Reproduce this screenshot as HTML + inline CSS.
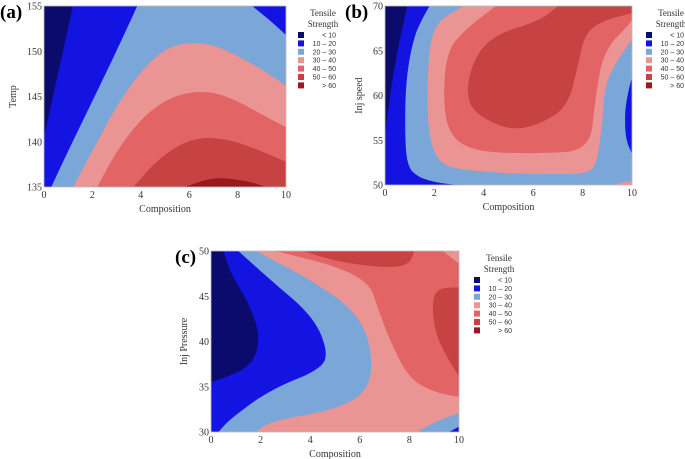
<!DOCTYPE html>
<html><head><meta charset="utf-8"><style>
html,body{margin:0;padding:0;background:#fff;}
svg{display:block;font-family:"Liberation Serif",serif;}
</style></head><body>
<svg id="fig" width="685" height="459" viewBox="0 0 685 459"></svg>
<script>
// ---------- data ----------
const levels = ["< 10","10 – 20","20 – 30","30 – 40","40 – 50","50 – 60","> 60"];
const colors = ["#0b0b6e","#1414e2","#7ba6d8","#ea9494","#e36464","#c74343","#99191c"];
const xTicks = [0,2,4,6,8,10];
const yTicksA = [135,140,145,150,155];
const yTicksB = [50,55,60,65,70];
const yTicksC = [30,35,40,45,50];
// contours: [levelIndex, [[x,y],...]]
const contoursA = [
 [1,[[0,140.5],[1.2,155],[10,155],[10,135],[0,135]]],
 [2,[[0.3,135],[1,139],[2,144.5],[2.9,149.5],[3.6,153.5],[3.85,155],[8.6,155],[9.3,153.5],[10,151.8],[10,135]]],
 [3,[[1.2,135],[2,139],[3,144],[4,147.8],[5,150.3],[6,151],[7,150.7],[8,149.5],[9,148],[10,146.2],[10,135]]],
 [4,[[2.2,135],[3,139],[4,142.5],[5,144.6],[6,145.5],[7,145.5],[8,144.5],[9,143],[10,141.6],[10,135]]],
 [5,[[3.7,135],[4.5,137.5],[5.5,139.6],[6.5,140.5],[7.5,140.3],[8.5,139.5],[10,137.8],[10,135]]],
 [6,[[5.8,135],[6.8,135.9],[7.5,136],[8.5,135.6],[9.2,135]]]
];
const contoursB = [
 [1,[[0,55.5],[0.2,60],[0.5,65],[0.9,70],[10,70],[10,50],[0,50]]],
 [2,[[1.8,70],[1.2,67],[0.85,62],[0.8,56],[0.9,52],[1.4,50.8],[2.2,50.2],[3,50],[10,50],[10,53.5],[9.75,55],[9.7,58],[9.85,60.5],[10,62],[10,70]]],
 [3,[[3.2,70],[2.2,68.5],[1.8,66],[1.7,60],[1.8,55],[2.2,52.5],[3,51.7],[5,51.3],[7,51.2],[8.3,51.3],[8.6,52.8],[8.8,57],[8.9,61],[9.3,63.5],[10,66.3],[10,70]]],
 [3,[[9.2,50],[10,50.5],[10,50]]],
 [4,[[4.5,70],[3.3,67.5],[2.5,65],[2.35,59.5],[2.6,55.6],[3.6,53.7],[6.3,53.5],[8.3,53.9],[8.5,59.5],[8.85,65],[9.9,68],[10,68.5],[10,70]]],
 [5,[[7,70],[6.3,68.4],[4.25,66.6],[3.45,63.2],[3.3,59.5],[3.85,57.6],[5.1,56.1],[6.3,56.8],[7.4,58.8],[7.8,63.2],[8.1,67],[8.85,68.4],[10,69.2],[10,70]]]
];
const contoursC = [
 [1,[[0.5,50],[0.8,47.5],[1.6,43.9],[2,40.2],[1.6,37.2],[0.35,35.8],[0,35.5],[0,30],[10,30],[10,50]]],
 [2,[[1.1,50],[2.4,46.8],[4.1,42.8],[4.7,39.1],[4.5,37],[2.4,34.7],[0.75,31.4],[0.3,30],[10,30],[10,50]]],
 [3,[[1.8,50],[4.3,46.4],[5.9,43.1],[6.5,39.1],[6.4,34.7],[5.1,32.5],[2.4,31.2],[1.8,30],[8.3,30],[9.1,31.2],[10,32.1],[10,50]]],
 [1,[[9.6,30],[10,30.6],[10,30]]],
 [4,[[2.6,50],[5.1,48.3],[6.4,46.4],[6.7,43.9],[7.2,40.2],[8,35.8],[9.1,34.3],[10,33.9],[10,48.6],[9.35,50]]],
 [5,[[3.7,50],[5.1,48.8],[7.1,48.1],[8,48.5],[8.2,50]]],
 [5,[[10,46],[9.1,45.9],[8.9,43.9],[9.1,40.2],[10,36.1]]]
];
// ---------- drawing ----------
const NS="http://www.w3.org/2000/svg";
const svg=document.getElementById('fig');
function mk(tag,attrs,parent,text){const e=document.createElementNS(NS,tag);for(const k in attrs)e.setAttribute(k,attrs[k]);if(text!==undefined)e.textContent=text;(parent||svg).appendChild(e);return e;}
function smooth(pts,onEdge,iter){
  for(let k=0;k<iter;k++){
    const out=[];const n=pts.length;
    for(let i=0;i<n;i++){
      const P=pts[i],A=pts[(i-1+n)%n],B=pts[(i+1)%n];
      if(onEdge(P)){out.push(P);continue;}
      out.push([0.25*A[0]+0.75*P[0],0.25*A[1]+0.75*P[1]]);
      out.push([0.75*P[0]+0.25*B[0],0.75*P[1]+0.25*B[1]]);
    }
    pts=out;
  }
  return pts;
}
function panel(p){
  const g=mk('g',{});
  
  
  const ymin=p.yt[0],ymax=p.yt[p.yt.length-1];
  const sx=v=>p.x0+(v-0)/10*(p.x1-p.x0);
  const sy=v=>p.y1-(v-ymin)/(ymax-ymin)*(p.y1-p.y0);
  const onEdge=pt=>pt[0]<=0.001||pt[0]>=9.999||Math.abs(pt[1]-ymin)<1e-3||Math.abs(pt[1]-ymax)<1e-3;
  const bg=mk('rect',{x:p.x0,y:p.y0,width:p.x1-p.x0,height:p.y1-p.y0,fill:colors[0]},g);
  
  
  p.c.forEach((c,i)=>{
    const pts=smooth(c[1],onEdge,3);
    const d=pts.map((pt,j)=>(j?'L':'M')+sx(pt[0]).toFixed(1)+','+sy(pt[1]).toFixed(1)).join('')+'Z';
    const e=mk('path',{d:d,fill:colors[c[0]]},g);
    
    
  });
  mk('rect',{x:p.x0,y:p.y0,width:p.x1-p.x0,height:p.y1-p.y0,fill:'none',stroke:'#bbb','stroke-width':0.8},g);
  xTicks.forEach(t=>{
    const e=mk('text',{x:sx(t),y:p.y1+11,'font-size':10,'text-anchor':'middle',fill:'#333'},g,t);
    
    
  });
  p.yt.forEach(t=>{
    const e=mk('text',{x:p.x0-2,y:sy(t)+3.5,'font-size':10,'text-anchor':'end',fill:'#333'},g,t);
    
    
  });
  const xt=mk('text',{x:(p.x0+p.x1)/2,y:p.y1+25,'font-size':10,'text-anchor':'middle',fill:'#333'},g,'Composition');
  
  
  const yc=(p.y0+p.y1)/2;
  const yt=mk('text',{x:p.ytx,y:yc,'font-size':10,'text-anchor':'middle',fill:'#333',transform:'rotate(-90 '+p.ytx+' '+yc+')'},g,p.ylabel);
  
  
  const lab=mk('text',{x:p.lx,y:p.ly,'font-size':19,'font-weight':'bold',fill:'#000'},g,p.letter);
  
  
  const lg=mk('g',{},g);
  
  
  const t1=mk('text',{x:p.legX+25,y:p.legY-19,'font-size':9,'text-anchor':'middle',fill:'#333'},lg,'Tensile');
  
  
  const t2=mk('text',{x:p.legX+25,y:p.legY-8,'font-size':9,'text-anchor':'middle',fill:'#333'},lg,'Strength');
  
  
  levels.forEach((l,i)=>{
    const y=p.legY+i*8.4;
    const r=mk('rect',{x:p.legX,y:y-3,width:6,height:6,fill:colors[i]},lg);
    
    
    const t=mk('text',{x:p.legX+38,y:y+2.5,'font-size':7,'font-family':'Liberation Sans,sans-serif','text-anchor':'end',fill:'#333'},lg,l);
    
    
  });
}
panel({id:'a',x0:44,x1:286,y0:6,y1:187,yt:yTicksA,c:contoursA,ylabel:'Temp',ytx:16,lx:0,ly:18,letter:'(a)',legX:298,legY:35});
panel({id:'b',x0:385,x1:632,y0:6,y1:185,yt:yTicksB,c:contoursB,ylabel:'Inj speed',ytx:362,lx:345,ly:18,letter:'(b)',legX:646,legY:35});
panel({id:'c',x0:211,x1:459,y0:251,y1:432,yt:yTicksC,c:contoursC,ylabel:'Inj Pressure',ytx:187,lx:175,ly:263,letter:'(c)',legX:474,legY:280});
</script>
</body></html>
